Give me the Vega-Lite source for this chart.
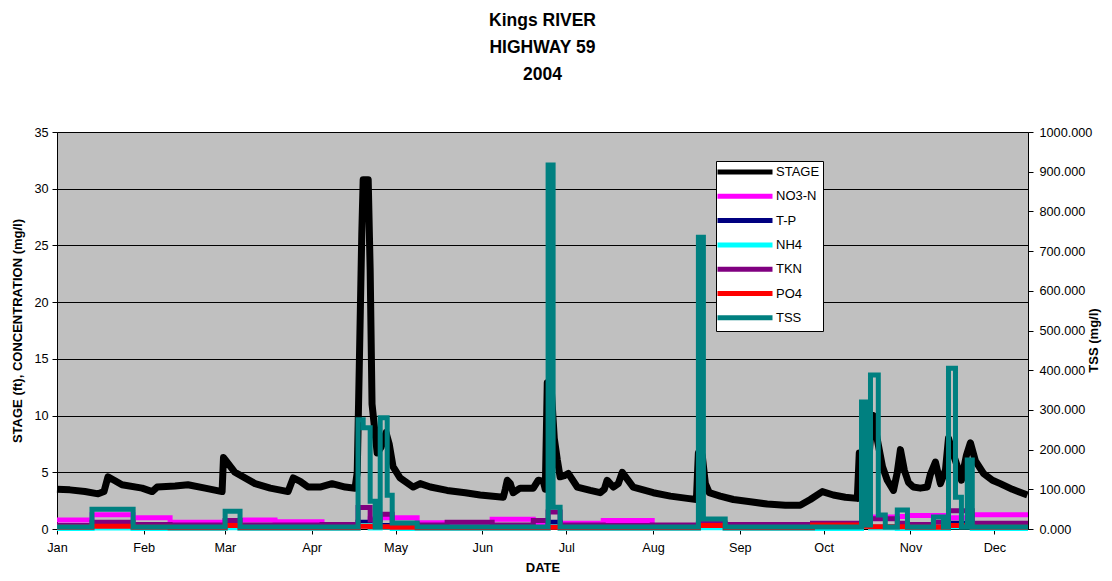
{
  "$schema": "https://vega.github.io/schema/vega-lite/v6.json",
  "width": 971,
  "height": 397,
  "autosize": {"type": "none"},
  "padding": {"left": 57, "top": 132, "right": 84, "bottom": 52},
  "background": "white",
  "title": {
    "text": ["Kings RIVER", "HIGHWAY 59", "2004"],
    "font": "Liberation Sans",
    "fontSize": 17.5,
    "fontWeight": "bold",
    "color": "black",
    "lineHeight": 27,
    "anchor": "middle",
    "offset": 43
  },
  "config": {
    "view": {"fill": "#C0C0C0", "stroke": "#808080", "strokeWidth": 1},
    "axis": {
      "labelFont": "Liberation Sans",
      "titleFont": "Liberation Sans",
      "labelFontSize": 12.7,
      "titleFontSize": 13,
      "titleFontWeight": "bold",
      "labelColor": "black",
      "titleColor": "black",
      "domainColor": "black",
      "tickColor": "black",
      "tickSize": 5
    }
  },
  "datasets": {
    "stage": [
      {"date": "2004-01-01T00:00", "series": "STAGE", "value": 3.5},
      {"date": "2004-01-05T14:00", "series": "STAGE", "value": 3.45},
      {"date": "2004-01-11T00:00", "series": "STAGE", "value": 3.3},
      {"date": "2004-01-15T17:00", "series": "STAGE", "value": 3.1},
      {"date": "2004-01-17T19:00", "series": "STAGE", "value": 3.3},
      {"date": "2004-01-19T05:00", "series": "STAGE", "value": 4.6},
      {"date": "2004-01-21T10:00", "series": "STAGE", "value": 4.3},
      {"date": "2004-01-24T05:00", "series": "STAGE", "value": 3.9},
      {"date": "2004-01-31T10:00", "series": "STAGE", "value": 3.6},
      {"date": "2004-02-04T00:00", "series": "STAGE", "value": 3.3},
      {"date": "2004-02-05T19:00", "series": "STAGE", "value": 3.7},
      {"date": "2004-02-12T05:00", "series": "STAGE", "value": 3.8},
      {"date": "2004-02-16T19:00", "series": "STAGE", "value": 3.9},
      {"date": "2004-02-22T22:00", "series": "STAGE", "value": 3.6},
      {"date": "2004-02-29T00:00", "series": "STAGE", "value": 3.3},
      {"date": "2004-02-29T12:00", "series": "STAGE", "value": 6.3},
      {"date": "2004-03-01T10:00", "series": "STAGE", "value": 6.0},
      {"date": "2004-03-04T14:00", "series": "STAGE", "value": 5.0},
      {"date": "2004-03-11T19:00", "series": "STAGE", "value": 4.0},
      {"date": "2004-03-17T05:00", "series": "STAGE", "value": 3.6},
      {"date": "2004-03-23T14:00", "series": "STAGE", "value": 3.3},
      {"date": "2004-03-25T10:00", "series": "STAGE", "value": 4.5},
      {"date": "2004-03-27T22:00", "series": "STAGE", "value": 4.2},
      {"date": "2004-03-30T17:00", "series": "STAGE", "value": 3.7},
      {"date": "2004-04-04T00:00", "series": "STAGE", "value": 3.7},
      {"date": "2004-04-08T07:00", "series": "STAGE", "value": 4.0},
      {"date": "2004-04-13T00:00", "series": "STAGE", "value": 3.7},
      {"date": "2004-04-16T12:00", "series": "STAGE", "value": 3.6},
      {"date": "2004-04-17T07:00", "series": "STAGE", "value": 5.0},
      {"date": "2004-04-18T00:00", "series": "STAGE", "value": 14.0},
      {"date": "2004-04-18T22:00", "series": "STAGE", "value": 26.0},
      {"date": "2004-04-19T10:00", "series": "STAGE", "value": 30.8},
      {"date": "2004-04-21T05:00", "series": "STAGE", "value": 30.8},
      {"date": "2004-04-21T22:00", "series": "STAGE", "value": 22.8},
      {"date": "2004-04-22T14:00", "series": "STAGE", "value": 11.0},
      {"date": "2004-04-24T10:00", "series": "STAGE", "value": 6.7},
      {"date": "2004-04-25T19:00", "series": "STAGE", "value": 7.2},
      {"date": "2004-04-27T14:00", "series": "STAGE", "value": 8.5},
      {"date": "2004-04-28T17:00", "series": "STAGE", "value": 7.5},
      {"date": "2004-04-30T02:00", "series": "STAGE", "value": 5.5},
      {"date": "2004-05-02T14:00", "series": "STAGE", "value": 4.5},
      {"date": "2004-05-07T07:00", "series": "STAGE", "value": 3.7},
      {"date": "2004-05-09T19:00", "series": "STAGE", "value": 4.0},
      {"date": "2004-05-13T10:00", "series": "STAGE", "value": 3.7},
      {"date": "2004-05-19T10:00", "series": "STAGE", "value": 3.4},
      {"date": "2004-05-25T22:00", "series": "STAGE", "value": 3.2},
      {"date": "2004-05-31T05:00", "series": "STAGE", "value": 3.0},
      {"date": "2004-06-08T12:00", "series": "STAGE", "value": 2.8},
      {"date": "2004-06-09T05:00", "series": "STAGE", "value": 3.5},
      {"date": "2004-06-09T22:00", "series": "STAGE", "value": 4.3},
      {"date": "2004-06-11T00:00", "series": "STAGE", "value": 4.0},
      {"date": "2004-06-12T00:00", "series": "STAGE", "value": 3.2},
      {"date": "2004-06-14T12:00", "series": "STAGE", "value": 3.6},
      {"date": "2004-06-19T05:00", "series": "STAGE", "value": 3.6},
      {"date": "2004-06-21T00:00", "series": "STAGE", "value": 4.3},
      {"date": "2004-06-22T19:00", "series": "STAGE", "value": 4.2},
      {"date": "2004-06-23T12:00", "series": "STAGE", "value": 3.5},
      {"date": "2004-06-24T05:00", "series": "STAGE", "value": 12.9},
      {"date": "2004-06-25T14:00", "series": "STAGE", "value": 12.5},
      {"date": "2004-06-26T17:00", "series": "STAGE", "value": 8.0},
      {"date": "2004-06-27T19:00", "series": "STAGE", "value": 6.1},
      {"date": "2004-06-28T19:00", "series": "STAGE", "value": 4.6},
      {"date": "2004-06-30T07:00", "series": "STAGE", "value": 4.7},
      {"date": "2004-07-01T17:00", "series": "STAGE", "value": 4.9},
      {"date": "2004-07-04T22:00", "series": "STAGE", "value": 3.7},
      {"date": "2004-07-09T14:00", "series": "STAGE", "value": 3.4},
      {"date": "2004-07-13T02:00", "series": "STAGE", "value": 3.2},
      {"date": "2004-07-14T14:00", "series": "STAGE", "value": 3.5},
      {"date": "2004-07-15T14:00", "series": "STAGE", "value": 4.3},
      {"date": "2004-07-16T17:00", "series": "STAGE", "value": 4.0},
      {"date": "2004-07-17T19:00", "series": "STAGE", "value": 3.7},
      {"date": "2004-07-19T14:00", "series": "STAGE", "value": 4.0},
      {"date": "2004-07-21T00:00", "series": "STAGE", "value": 5.0},
      {"date": "2004-07-22T19:00", "series": "STAGE", "value": 4.4},
      {"date": "2004-07-24T22:00", "series": "STAGE", "value": 3.7},
      {"date": "2004-08-01T02:00", "series": "STAGE", "value": 3.2},
      {"date": "2004-08-07T05:00", "series": "STAGE", "value": 2.9},
      {"date": "2004-08-13T05:00", "series": "STAGE", "value": 2.7},
      {"date": "2004-08-16T12:00", "series": "STAGE", "value": 2.6},
      {"date": "2004-08-17T05:00", "series": "STAGE", "value": 6.7},
      {"date": "2004-08-18T14:00", "series": "STAGE", "value": 6.5},
      {"date": "2004-08-19T17:00", "series": "STAGE", "value": 4.0},
      {"date": "2004-08-21T02:00", "series": "STAGE", "value": 3.2},
      {"date": "2004-08-25T00:00", "series": "STAGE", "value": 2.9},
      {"date": "2004-08-29T17:00", "series": "STAGE", "value": 2.6},
      {"date": "2004-09-04T19:00", "series": "STAGE", "value": 2.4},
      {"date": "2004-09-10T19:00", "series": "STAGE", "value": 2.2},
      {"date": "2004-09-17T07:00", "series": "STAGE", "value": 2.1},
      {"date": "2004-09-22T14:00", "series": "STAGE", "value": 2.1},
      {"date": "2004-09-26T05:00", "series": "STAGE", "value": 2.6},
      {"date": "2004-09-30T12:00", "series": "STAGE", "value": 3.3},
      {"date": "2004-10-04T10:00", "series": "STAGE", "value": 3.0},
      {"date": "2004-10-08T17:00", "series": "STAGE", "value": 2.8},
      {"date": "2004-10-13T00:00", "series": "STAGE", "value": 2.7},
      {"date": "2004-10-13T17:00", "series": "STAGE", "value": 6.7},
      {"date": "2004-10-14T19:00", "series": "STAGE", "value": 3.6},
      {"date": "2004-10-16T14:00", "series": "STAGE", "value": 4.5},
      {"date": "2004-10-18T00:00", "series": "STAGE", "value": 9.0},
      {"date": "2004-10-18T17:00", "series": "STAGE", "value": 10.0},
      {"date": "2004-10-20T05:00", "series": "STAGE", "value": 7.8},
      {"date": "2004-10-22T00:00", "series": "STAGE", "value": 5.5},
      {"date": "2004-10-23T17:00", "series": "STAGE", "value": 4.3},
      {"date": "2004-10-25T22:00", "series": "STAGE", "value": 3.4},
      {"date": "2004-10-27T07:00", "series": "STAGE", "value": 5.0},
      {"date": "2004-10-28T10:00", "series": "STAGE", "value": 7.0},
      {"date": "2004-10-29T19:00", "series": "STAGE", "value": 5.2},
      {"date": "2004-10-31T07:00", "series": "STAGE", "value": 4.1},
      {"date": "2004-11-02T00:00", "series": "STAGE", "value": 3.7},
      {"date": "2004-11-04T12:00", "series": "STAGE", "value": 3.6},
      {"date": "2004-11-07T00:00", "series": "STAGE", "value": 3.7},
      {"date": "2004-11-08T02:00", "series": "STAGE", "value": 4.8},
      {"date": "2004-11-09T22:00", "series": "STAGE", "value": 5.9},
      {"date": "2004-11-11T17:00", "series": "STAGE", "value": 4.0},
      {"date": "2004-11-13T12:00", "series": "STAGE", "value": 5.2},
      {"date": "2004-11-14T14:00", "series": "STAGE", "value": 8.0},
      {"date": "2004-11-16T00:00", "series": "STAGE", "value": 6.8},
      {"date": "2004-11-17T19:00", "series": "STAGE", "value": 5.5},
      {"date": "2004-11-19T05:00", "series": "STAGE", "value": 4.3},
      {"date": "2004-11-21T00:00", "series": "STAGE", "value": 6.5},
      {"date": "2004-11-22T10:00", "series": "STAGE", "value": 7.6},
      {"date": "2004-11-24T05:00", "series": "STAGE", "value": 6.0},
      {"date": "2004-11-27T02:00", "series": "STAGE", "value": 4.9},
      {"date": "2004-11-30T07:00", "series": "STAGE", "value": 4.3},
      {"date": "2004-12-03T02:00", "series": "STAGE", "value": 4.0},
      {"date": "2004-12-07T10:00", "series": "STAGE", "value": 3.5},
      {"date": "2004-12-12T19:00", "series": "STAGE", "value": 3.0}
    ],
    "conc": [
      {"date": "2004-01-01T00:00", "series": "NO3-N", "value": 0.8},
      {"date": "2004-01-13T12:00", "series": "NO3-N", "value": 1.25},
      {"date": "2004-01-28T05:00", "series": "NO3-N", "value": 1.0},
      {"date": "2004-02-10T10:00", "series": "NO3-N", "value": 0.6},
      {"date": "2004-03-01T02:00", "series": "NO3-N", "value": 0.7},
      {"date": "2004-03-06T10:00", "series": "NO3-N", "value": 0.8},
      {"date": "2004-03-18T22:00", "series": "NO3-N", "value": 0.65},
      {"date": "2004-04-04T17:00", "series": "NO3-N", "value": 0.25},
      {"date": "2004-04-17T14:00", "series": "NO3-N", "value": 0.3},
      {"date": "2004-04-21T22:00", "series": "NO3-N", "value": 0.9},
      {"date": "2004-04-25T12:00", "series": "NO3-N", "value": 1.0},
      {"date": "2004-04-29T19:00", "series": "NO3-N", "value": 1.0},
      {"date": "2004-05-08T17:00", "series": "NO3-N", "value": 0.55},
      {"date": "2004-05-19T10:00", "series": "NO3-N", "value": 0.3},
      {"date": "2004-06-04T12:00", "series": "NO3-N", "value": 0.85},
      {"date": "2004-06-19T05:00", "series": "NO3-N", "value": 0.4},
      {"date": "2004-06-24T12:00", "series": "NO3-N", "value": 0.35},
      {"date": "2004-06-28T19:00", "series": "NO3-N", "value": 0.5},
      {"date": "2004-07-14T05:00", "series": "NO3-N", "value": 0.75},
      {"date": "2004-07-31T17:00", "series": "NO3-N", "value": 0.2},
      {"date": "2004-10-14T12:00", "series": "NO3-N", "value": 0.3},
      {"date": "2004-10-17T17:00", "series": "NO3-N", "value": 1.05},
      {"date": "2004-10-27T07:00", "series": "NO3-N", "value": 1.1},
      {"date": "2004-10-30T22:00", "series": "NO3-N", "value": 1.2},
      {"date": "2004-11-14T14:00", "series": "NO3-N", "value": 1.0},
      {"date": "2004-11-23T02:00", "series": "NO3-N", "value": 1.25},
      {"date": "2004-12-13T00:00", "series": "NO3-N", "value": 1.25},
      {"date": "2004-01-01T00:00", "series": "T-P", "value": 0.1},
      {"date": "2004-01-13T12:00", "series": "T-P", "value": 0.15},
      {"date": "2004-01-28T05:00", "series": "T-P", "value": 0.1},
      {"date": "2004-03-01T02:00", "series": "T-P", "value": 0.2},
      {"date": "2004-03-06T10:00", "series": "T-P", "value": 0.1},
      {"date": "2004-04-17T14:00", "series": "T-P", "value": 0.6},
      {"date": "2004-04-21T22:00", "series": "T-P", "value": 0.15},
      {"date": "2004-04-25T12:00", "series": "T-P", "value": 0.3},
      {"date": "2004-04-29T19:00", "series": "T-P", "value": 0.15},
      {"date": "2004-05-08T17:00", "series": "T-P", "value": 0.1},
      {"date": "2004-06-24T12:00", "series": "T-P", "value": 0.6},
      {"date": "2004-06-28T19:00", "series": "T-P", "value": 0.15},
      {"date": "2004-07-14T05:00", "series": "T-P", "value": 0.1},
      {"date": "2004-08-17T05:00", "series": "T-P", "value": 0.2},
      {"date": "2004-08-26T19:00", "series": "T-P", "value": 0.1},
      {"date": "2004-10-14T12:00", "series": "T-P", "value": 0.8},
      {"date": "2004-10-17T17:00", "series": "T-P", "value": 0.15},
      {"date": "2004-10-30T22:00", "series": "T-P", "value": 0.1},
      {"date": "2004-11-14T14:00", "series": "T-P", "value": 0.5},
      {"date": "2004-11-23T02:00", "series": "T-P", "value": 0.15},
      {"date": "2004-12-13T00:00", "series": "T-P", "value": 0.15},
      {"date": "2004-01-01T00:00", "series": "NH4", "value": 0.05},
      {"date": "2004-01-13T12:00", "series": "NH4", "value": 0.08},
      {"date": "2004-01-28T05:00", "series": "NH4", "value": 0.05},
      {"date": "2004-03-01T02:00", "series": "NH4", "value": 0.1},
      {"date": "2004-03-06T10:00", "series": "NH4", "value": 0.05},
      {"date": "2004-04-17T14:00", "series": "NH4", "value": 0.3},
      {"date": "2004-04-21T22:00", "series": "NH4", "value": 0.08},
      {"date": "2004-04-25T12:00", "series": "NH4", "value": 0.15},
      {"date": "2004-04-29T19:00", "series": "NH4", "value": 0.05},
      {"date": "2004-06-24T12:00", "series": "NH4", "value": 0.2},
      {"date": "2004-06-28T19:00", "series": "NH4", "value": 0.05},
      {"date": "2004-08-17T05:00", "series": "NH4", "value": 0.1},
      {"date": "2004-08-26T19:00", "series": "NH4", "value": 0.05},
      {"date": "2004-10-14T12:00", "series": "NH4", "value": 0.3},
      {"date": "2004-10-17T17:00", "series": "NH4", "value": 0.08},
      {"date": "2004-10-27T07:00", "series": "NH4", "value": 0.05},
      {"date": "2004-11-14T14:00", "series": "NH4", "value": 0.2},
      {"date": "2004-11-23T02:00", "series": "NH4", "value": 0.05},
      {"date": "2004-12-13T00:00", "series": "NH4", "value": 0.05},
      {"date": "2004-01-01T00:00", "series": "TKN", "value": 0.3},
      {"date": "2004-01-13T12:00", "series": "TKN", "value": 0.6},
      {"date": "2004-01-28T05:00", "series": "TKN", "value": 0.4},
      {"date": "2004-02-10T10:00", "series": "TKN", "value": 0.35},
      {"date": "2004-03-01T02:00", "series": "TKN", "value": 0.75},
      {"date": "2004-03-06T10:00", "series": "TKN", "value": 0.35},
      {"date": "2004-04-04T17:00", "series": "TKN", "value": 0.4},
      {"date": "2004-04-17T14:00", "series": "TKN", "value": 1.9},
      {"date": "2004-04-21T22:00", "series": "TKN", "value": 0.8},
      {"date": "2004-04-25T12:00", "series": "TKN", "value": 1.3},
      {"date": "2004-04-29T19:00", "series": "TKN", "value": 0.45},
      {"date": "2004-05-08T17:00", "series": "TKN", "value": 0.35},
      {"date": "2004-05-19T10:00", "series": "TKN", "value": 0.6},
      {"date": "2004-06-04T12:00", "series": "TKN", "value": 0.35},
      {"date": "2004-06-19T05:00", "series": "TKN", "value": 0.75},
      {"date": "2004-06-24T12:00", "series": "TKN", "value": 1.5},
      {"date": "2004-06-28T19:00", "series": "TKN", "value": 0.35},
      {"date": "2004-07-14T05:00", "series": "TKN", "value": 0.3},
      {"date": "2004-07-31T17:00", "series": "TKN", "value": 0.35},
      {"date": "2004-08-17T05:00", "series": "TKN", "value": 0.5},
      {"date": "2004-08-26T19:00", "series": "TKN", "value": 0.4},
      {"date": "2004-09-27T00:00", "series": "TKN", "value": 0.5},
      {"date": "2004-10-14T12:00", "series": "TKN", "value": 1.2},
      {"date": "2004-10-17T17:00", "series": "TKN", "value": 0.9},
      {"date": "2004-10-27T07:00", "series": "TKN", "value": 0.5},
      {"date": "2004-10-30T22:00", "series": "TKN", "value": 0.4},
      {"date": "2004-11-09T05:00", "series": "TKN", "value": 0.6},
      {"date": "2004-11-14T14:00", "series": "TKN", "value": 1.6},
      {"date": "2004-11-23T02:00", "series": "TKN", "value": 0.5},
      {"date": "2004-12-13T00:00", "series": "TKN", "value": 0.5},
      {"date": "2004-01-01T00:00", "series": "PO4", "value": 0.15},
      {"date": "2004-01-13T12:00", "series": "PO4", "value": 0.25},
      {"date": "2004-01-28T05:00", "series": "PO4", "value": 0.15},
      {"date": "2004-02-10T10:00", "series": "PO4", "value": 0.1},
      {"date": "2004-03-01T02:00", "series": "PO4", "value": 0.3},
      {"date": "2004-03-06T10:00", "series": "PO4", "value": 0.1},
      {"date": "2004-04-17T14:00", "series": "PO4", "value": 0.25},
      {"date": "2004-04-21T22:00", "series": "PO4", "value": 0.2},
      {"date": "2004-04-29T19:00", "series": "PO4", "value": 0.15},
      {"date": "2004-05-08T17:00", "series": "PO4", "value": 0.1},
      {"date": "2004-06-24T12:00", "series": "PO4", "value": 0.15},
      {"date": "2004-06-28T19:00", "series": "PO4", "value": 0.1},
      {"date": "2004-08-17T05:00", "series": "PO4", "value": 0.3},
      {"date": "2004-08-26T19:00", "series": "PO4", "value": 0.1},
      {"date": "2004-09-27T00:00", "series": "PO4", "value": 0.35},
      {"date": "2004-10-14T12:00", "series": "PO4", "value": 0.25},
      {"date": "2004-10-17T17:00", "series": "PO4", "value": 0.2},
      {"date": "2004-10-30T22:00", "series": "PO4", "value": 0.15},
      {"date": "2004-11-14T14:00", "series": "PO4", "value": 0.3},
      {"date": "2004-11-23T02:00", "series": "PO4", "value": 0.15},
      {"date": "2004-12-13T00:00", "series": "PO4", "value": 0.15}
    ],
    "tss": [
      {"date": "2004-01-01T00:00", "series": "TSS", "value": 5},
      {"date": "2004-01-13T12:00", "series": "TSS", "value": 50},
      {"date": "2004-01-28T05:00", "series": "TSS", "value": 5},
      {"date": "2004-03-01T02:00", "series": "TSS", "value": 45},
      {"date": "2004-03-06T10:00", "series": "TSS", "value": 5},
      {"date": "2004-04-17T14:00", "series": "TSS", "value": 275},
      {"date": "2004-04-19T10:00", "series": "TSS", "value": 255},
      {"date": "2004-04-21T22:00", "series": "TSS", "value": 70},
      {"date": "2004-04-23T17:00", "series": "TSS", "value": 5},
      {"date": "2004-04-25T12:00", "series": "TSS", "value": 280},
      {"date": "2004-04-28T00:00", "series": "TSS", "value": 85},
      {"date": "2004-04-29T19:00", "series": "TSS", "value": 15},
      {"date": "2004-05-08T17:00", "series": "TSS", "value": 5},
      {"date": "2004-06-24T12:00", "series": "TSS", "value": 917},
      {"date": "2004-06-26T07:00", "series": "TSS", "value": 55},
      {"date": "2004-06-28T19:00", "series": "TSS", "value": 5},
      {"date": "2004-08-17T05:00", "series": "TSS", "value": 735},
      {"date": "2004-08-19T00:00", "series": "TSS", "value": 25},
      {"date": "2004-08-26T19:00", "series": "TSS", "value": 5},
      {"date": "2004-10-14T12:00", "series": "TSS", "value": 320},
      {"date": "2004-10-16T05:00", "series": "TSS", "value": 10},
      {"date": "2004-10-17T17:00", "series": "TSS", "value": 388},
      {"date": "2004-10-20T12:00", "series": "TSS", "value": 35},
      {"date": "2004-10-23T00:00", "series": "TSS", "value": 5},
      {"date": "2004-10-27T07:00", "series": "TSS", "value": 48},
      {"date": "2004-10-30T22:00", "series": "TSS", "value": 5},
      {"date": "2004-11-09T05:00", "series": "TSS", "value": 30},
      {"date": "2004-11-12T19:00", "series": "TSS", "value": 5},
      {"date": "2004-11-14T14:00", "series": "TSS", "value": 405},
      {"date": "2004-11-17T02:00", "series": "TSS", "value": 80},
      {"date": "2004-11-19T05:00", "series": "TSS", "value": 5},
      {"date": "2004-11-21T07:00", "series": "TSS", "value": 174},
      {"date": "2004-11-23T02:00", "series": "TSS", "value": 5},
      {"date": "2004-12-13T00:00", "series": "TSS", "value": 5}
    ]
  },
  "encoding": {
    "x": {
      "field": "date",
      "type": "temporal",
      "scale": {"domain": [{"year": 2004, "month": 1, "date": 1}, {"year": 2004, "month": 12, "date": 13}]},
      "axis": {
        "title": "DATE",
        "format": "%b",
        "values": [
          {"year": 2004, "month": 1, "date": 1}, {"year": 2004, "month": 2, "date": 1},
          {"year": 2004, "month": 3, "date": 1}, {"year": 2004, "month": 4, "date": 1},
          {"year": 2004, "month": 5, "date": 1}, {"year": 2004, "month": 6, "date": 1},
          {"year": 2004, "month": 7, "date": 1}, {"year": 2004, "month": 8, "date": 1},
          {"year": 2004, "month": 9, "date": 1}, {"year": 2004, "month": 10, "date": 1},
          {"year": 2004, "month": 11, "date": 1}, {"year": 2004, "month": 12, "date": 1}
        ],
        "grid": false,
        "labelAngle": 0,
        "labelFlush": false,
        "labelPadding": 7,
        "titlePadding": 8
      }
    },
    "color": {
      "field": "series",
      "type": "nominal",
      "scale": {
        "domain": ["STAGE", "NO3-N", "T-P", "NH4", "TKN", "PO4", "TSS"],
        "range": ["#000000", "#FF00FF", "#000080", "#00FFFF", "#800080", "#FF0000", "#008080"]
      },
      "legend": {
        "orient": "none",
        "legendX": 659,
        "legendY": 29,
        "title": null,
        "symbolType": "M-5,0H5",
        "symbolSize": 121,
        "symbolStrokeWidth": 5,
        "symbolOffset": 18,
        "labelFont": "Liberation Sans",
        "labelFontSize": 13,
        "labelColor": "black",
        "labelOffset": 23,
        "labelExpr": "datum.label + '       '",
        "fillColor": "white",
        "strokeColor": "black",
        "padding": 3,
        "rowPadding": 4.3
      }
    }
  },
  "layer": [
    {
      "layer": [
        {
          "data": {"name": "stage"},
          "mark": {"type": "line", "strokeWidth": 7, "strokeJoin": "round"},
          "encoding": {
            "y": {
              "field": "value",
              "type": "quantitative",
              "scale": {"domain": [0, 35], "nice": false},
              "axis": {
                "title": "STAGE (ft), CONCENTRATION (mg/l)",
                "values": [0, 5, 10, 15, 20, 25, 30, 35],
                "grid": true,
                "gridColor": "black",
                "gridWidth": 1,
                "gridOpacity": 1,
                "labelPadding": 4,
                "titlePadding": 9
              }
            }
          }
        },
        {
          "data": {"name": "conc"},
          "mark": {"type": "line", "strokeWidth": 5, "interpolate": "step-after"},
          "encoding": {
            "y": {"field": "value", "type": "quantitative"}
          }
        }
      ]
    },
    {
      "data": {"name": "tss"},
      "mark": {"type": "line", "strokeWidth": 5, "interpolate": "step-after"},
      "encoding": {
        "y": {
          "field": "value",
          "type": "quantitative",
          "scale": {"domain": [0, 1000], "nice": false},
          "axis": {
            "orient": "right",
            "title": "TSS (mg/l)",
            "values": [0, 100, 200, 300, 400, 500, 600, 700, 800, 900, 1000],
            "format": ".3f",
            "grid": false,
            "labelPadding": 6,
            "titleAngle": 270,
            "titleX": 65,
            "titleY": 208,
            "titleAlign": "center",
            "titleBaseline": "middle"
          }
        }
      }
    }
  ],
  "resolve": {"scale": {"y": "independent"}}
}
